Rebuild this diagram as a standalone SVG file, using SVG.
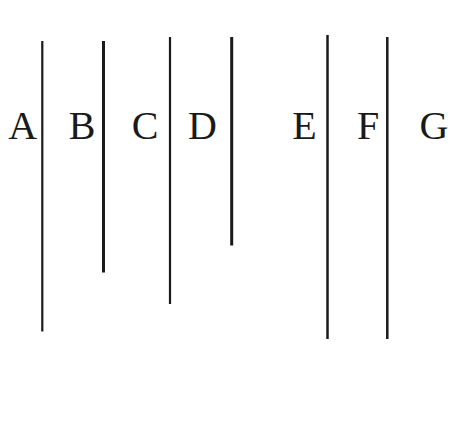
<svg xmlns="http://www.w3.org/2000/svg" width="452" height="426" viewBox="0 0 452 426">
<style>
.lbl{font-family:"Liberation Serif","Times New Roman",serif;font-size:40px;fill:#1a1a1a;text-anchor:middle}
.ln{stroke:#1a1a1a;fill:none}
</style>
<rect width="452" height="426" fill="#fff"/>
<g id="lines">
<line class="ln" x1="42.3" y1="41" x2="42.3" y2="331.5" stroke-width="2.2"/>
<line class="ln" x1="103.5" y1="41" x2="103.5" y2="272.5" stroke-width="3"/>
<line class="ln" x1="170" y1="37" x2="170" y2="304" stroke-width="2.2"/>
<line class="ln" x1="231.7" y1="37" x2="231.7" y2="245.5" stroke-width="3"/>
<line class="ln" x1="327.5" y1="35" x2="327.5" y2="339" stroke-width="2.5"/>
<line class="ln" x1="387.3" y1="37" x2="387.3" y2="339" stroke-width="2.5"/>
</g>
<g id="labels">
<text class="lbl" x="22.7" y="139">A</text>
<text class="lbl" x="82" y="139">B</text>
<text class="lbl" x="145" y="139">C</text>
<text class="lbl" x="202.5" y="139">D</text>
<text class="lbl" x="304.4" y="139">E</text>
<text class="lbl" x="368" y="139">F</text>
<text class="lbl" x="434" y="139">G</text>
</g>
</svg>
